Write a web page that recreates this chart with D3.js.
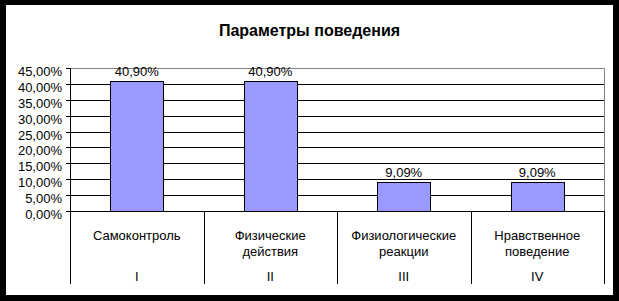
<!DOCTYPE html>
<html>
<head>
<meta charset="utf-8">
<script src="https://cdn.jsdelivr.net/npm/d3@7"></script>
<style>
  body { margin: 0; background: #000; }
  svg { display: block; }
  text { font-family: "Liberation Sans", Arial, sans-serif; fill: #000; }
</style>
</head>
<body>
<div id="canvas"></div>
<script>
"use strict"

let svgWidth = 619;
let svgHeight = 301;

// data
let categories = ["Самоконтроль", "Физические действия", "Физиологические реакции", "Нравственное поведение"];
let categoryLines = [["Самоконтроль"], ["Физические", "действия"], ["Физиологические", "реакции"], ["Нравственное", "поведение"]];
let romanLabels = ["I", "II", "III", "IV"];
let values = [40.90, 40.90, 9.09, 9.09];
let valueLabels = ["40,90%", "40,90%", "9,09%", "9,09%"];
let yTicks = [0, 5, 10, 15, 20, 25, 30, 35, 40, 45];
let yTickLabels = ["0,00%", "5,00%", "10,00%", "15,00%", "20,00%", "25,00%", "30,00%", "35,00%", "40,00%", "45,00%"];

let plotLeft = 70, plotRight = 604, plotTop = 68, plotBottom = 211;
let catBottom = 284;

let svg = d3.select("#canvas")
    .append("svg")
    .attr("width", svgWidth)
    .attr("height", svgHeight);

/* black frame with white chart area */
svg.append("rect")
    .attr("width", svgWidth)
    .attr("height", svgHeight)
    .attr("fill", "#000");

svg.append("rect")
    .attr("x", 6)
    .attr("y", 5)
    .attr("width", 607)
    .attr("height", 290)
    .attr("fill", "#fff");

/* title */
svg.append("text")
    .attr("x", 309.5)
    .attr("y", 36)
    .attr("text-anchor", "middle")
    .style("font-weight", "bold")
    .style("font-size", "16px")
    .text("Параметры поведения");

/* scales */
let xScale = d3.scaleBand()
    .domain(categories)
    .range([plotLeft, plotRight]);

let yScale = d3.scaleLinear()
    .domain([0, 45])
    .range([plotBottom, plotTop]);

/* gridlines */
svg.selectAll("line.grid")
    .data(yTicks.filter(d => d > 0 && d < 45))
    .join("line")
    .attr("class", "grid")
    .attr("x1", plotLeft - 4)
    .attr("x2", plotRight)
    .attr("y1", d => Math.round(yScale(d)) + 0.5)
    .attr("y2", d => Math.round(yScale(d)) + 0.5)
    .attr("stroke", "#000");

/* plot border: top and right grey */
svg.append("path")
    .attr("d", "M" + plotLeft + "," + (plotTop + 0.5) + "H" + (plotRight + 0.5) + "V" + plotBottom)
    .attr("fill", "none")
    .attr("stroke", "#808080");

/* top tick */
svg.append("line")
    .attr("x1", plotLeft - 4).attr("x2", plotLeft)
    .attr("y1", plotTop + 0.5).attr("y2", plotTop + 0.5)
    .attr("stroke", "#000");

/* bars */
let barWidth = 53;
svg.selectAll("rect.bar")
    .data(values)
    .join("rect")
    .attr("class", "bar")
    .attr("x", (d, i) => Math.round(xScale(categories[i]) + xScale.bandwidth() / 2 - barWidth / 2) + 0.5)
    .attr("y", d => Math.round(yScale(d)) + 0.5)
    .attr("width", barWidth)
    .attr("height", d => Math.round(plotBottom) - Math.round(yScale(d)))
    .attr("fill", "#9999ff")
    .attr("stroke", "#000");

/* value labels */
svg.selectAll("text.value")
    .data(values)
    .join("text")
    .attr("class", "value")
    .attr("x", (d, i) => xScale(categories[i]) + xScale.bandwidth() / 2)
    .attr("y", d => yScale(d) - 5)
    .attr("text-anchor", "middle")
    .style("font-size", "13px")
    .text((d, i) => valueLabels[i]);

/* y axis */
svg.append("line")
    .attr("x1", plotLeft + 0.5).attr("x2", plotLeft + 0.5)
    .attr("y1", plotTop).attr("y2", catBottom)
    .attr("stroke", "#000");

svg.append("line")
    .attr("x1", plotLeft - 4).attr("x2", plotRight + 1)
    .attr("y1", plotBottom + 0.5).attr("y2", plotBottom + 0.5)
    .attr("stroke", "#000");

svg.selectAll("text.ytick")
    .data(yTicks)
    .join("text")
    .attr("class", "ytick")
    .attr("x", plotLeft - 8)
    .attr("y", d => yScale(d) + 8)
    .attr("text-anchor", "end")
    .style("font-size", "13px")
    .text((d, i) => yTickLabels[i]);

/* category dividers */
let bounds = categories.map(c => xScale(c)).concat([plotRight]);
svg.selectAll("line.divider")
    .data(bounds.slice(1))
    .join("line")
    .attr("class", "divider")
    .attr("x1", d => Math.round(d) + 0.5)
    .attr("x2", d => Math.round(d) + 0.5)
    .attr("y1", plotBottom)
    .attr("y2", catBottom)
    .attr("stroke", "#000");

/* category labels */
categoryLines.forEach(function (lines, i) {
    let cx = xScale(categories[i]) + xScale.bandwidth() / 2;
    lines.forEach(function (line, j) {
        svg.append("text")
            .attr("x", cx)
            .attr("y", 240 + j * 16)
            .attr("text-anchor", "middle")
            .style("font-size", "13px")
            .text(line);
    });
    svg.append("text")
        .attr("x", cx)
        .attr("y", 281)
        .attr("text-anchor", "middle")
        .style("font-size", "13px")
        .text(romanLabels[i]);
});
</script>
</body>
</html>
